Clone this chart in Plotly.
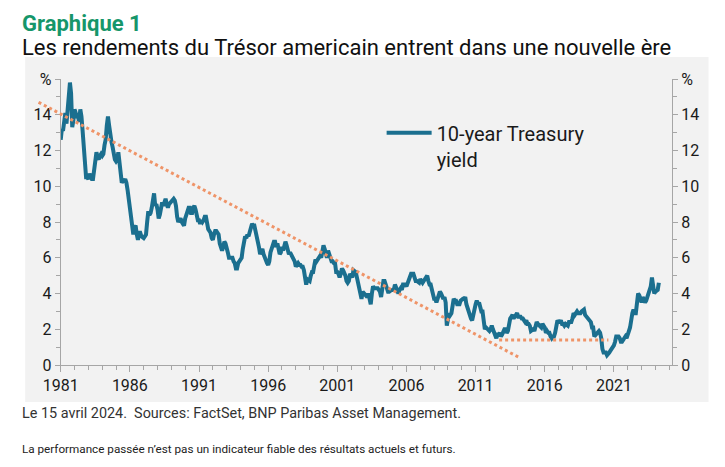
import plotly.graph_objects as go

# 10-year Treasury yield, %, monthly (Jan 1981 - Apr 2024)
yield_1980s = [
    12.6, 13.2, 13.1, 13.7, 14.1, 13.5, 14.3, 14.9, 15.8, 15.2, 13.3, 13.7,
    14.3, 14.1, 13.9, 13.9, 13.6, 14.3, 13.9, 13.1, 12.3, 10.9, 10.5, 10.5,
    10.4, 10.7, 10.5, 10.4, 10.4, 10.9, 11.4, 11.9, 11.6, 11.5, 11.7, 11.8,
    11.7, 11.8, 12.3, 12.6, 13.4, 13.9, 13.4, 12.7, 12.5, 12.2, 11.6, 11.5,
    11.4, 11.5, 11.9, 11.4, 10.8, 10.2, 10.3, 10.3, 10.4, 10.2, 9.8, 9.3,
    9.2, 8.7, 7.8, 7.3, 7.7, 7.8, 7.3, 7.0, 7.4, 7.4, 7.2, 7.1,
    7.1, 7.2, 7.3, 8.0, 8.6, 8.4, 8.5, 8.8, 9.4, 9.6, 8.9, 9.0,
    8.7, 8.2, 8.4, 8.7, 9.1, 8.9, 9.1, 9.3, 9.0, 8.8, 9.0, 9.1,
    9.1, 9.2, 9.3, 9.2, 8.9, 8.3, 8.0, 8.1, 8.2, 8.0, 7.9, 7.8,
]
yield_1990s = [
    8.2, 8.5, 8.6, 8.8, 8.8, 8.5, 8.5, 8.8, 8.9, 8.7, 8.4, 8.1,
    8.1, 7.9, 8.1, 8.0, 8.1, 8.3, 8.3, 7.9, 7.6, 7.5, 7.4, 7.1,
    7.0, 7.3, 7.5, 7.5, 7.4, 7.3, 6.8, 6.6, 6.4, 6.6, 6.9, 6.8,
    6.6, 6.3, 6.0, 6.0, 6.0, 6.0, 5.8, 5.7, 5.4, 5.4, 5.7, 5.8,
    5.8, 6.0, 6.5, 7.0, 7.2, 7.1, 7.3, 7.2, 7.5, 7.7, 7.9, 7.8,
    7.8, 7.5, 7.2, 7.1, 6.6, 6.2, 6.3, 6.5, 6.2, 6.0, 5.9, 5.7,
    5.6, 5.8, 6.3, 6.5, 6.7, 6.9, 6.9, 6.6, 6.8, 6.5, 6.2, 6.3,
    6.6, 6.4, 6.7, 6.9, 6.7, 6.5, 6.2, 6.3, 6.2, 6.0, 5.9, 5.8,
    5.5, 5.6, 5.7, 5.6, 5.6, 5.5, 5.5, 5.3, 4.8, 4.5, 4.8, 4.7,
    4.7, 5.0, 5.2, 5.2, 5.5, 5.9, 5.8, 5.9, 5.9, 6.1, 6.0, 6.3,
]
yield_2000s = [
    6.7, 6.5, 6.3, 6.0, 6.4, 6.1, 6.0, 5.8, 5.8, 5.7, 5.7, 5.2,
    5.2, 5.1, 4.9, 5.1, 5.4, 5.3, 5.2, 5.0, 4.7, 4.6, 4.7, 5.1,
    5.0, 4.9, 5.3, 5.2, 5.2, 4.9, 4.6, 4.3, 3.9, 3.7, 4.1, 4.0,
    4.0, 3.9, 3.8, 4.0, 3.6, 3.4, 4.0, 4.4, 4.3, 4.3, 4.3, 4.3,
    4.2, 4.1, 3.8, 4.4, 4.7, 4.7, 4.5, 4.3, 4.1, 4.1, 4.2, 4.2,
    4.2, 4.2, 4.5, 4.3, 4.1, 4.0, 4.2, 4.3, 4.2, 4.5, 4.5, 4.5,
    4.4, 4.6, 4.7, 5.0, 5.1, 5.1, 5.1, 4.9, 4.7, 4.7, 4.6, 4.6,
    4.8, 4.7, 4.6, 4.7, 4.8, 5.0, 5.0, 4.7, 4.5, 4.5, 4.2, 4.1,
    3.7, 3.7, 3.5, 3.7, 3.9, 4.1, 4.0, 3.9, 3.7, 3.8, 3.5, 2.2,
    2.5, 2.9, 2.8, 2.9, 3.3, 3.7, 3.6, 3.6, 3.4, 3.4, 3.4, 3.6,
]
yield_2010s = [
    3.7, 3.7, 3.7, 3.8, 3.4, 3.2, 3.0, 2.7, 2.6, 2.5, 2.8, 3.3,
    3.4, 3.6, 3.4, 3.5, 3.2, 3.0, 3.0, 2.3, 2.0, 2.1, 2.0, 2.0,
    1.9, 2.0, 2.2, 2.0, 1.8, 1.6, 1.5, 1.7, 1.7, 1.8, 1.6, 1.7,
    1.9, 2.0, 2.0, 1.8, 1.9, 2.3, 2.6, 2.7, 2.8, 2.6, 2.7, 2.9,
    2.9, 2.7, 2.7, 2.7, 2.6, 2.6, 2.5, 2.4, 2.5, 2.3, 2.3, 2.2,
    1.9, 2.0, 2.0, 1.9, 2.2, 2.4, 2.3, 2.2, 2.2, 2.1, 2.3, 2.2,
    2.1, 1.8, 1.9, 1.8, 1.8, 1.6, 1.5, 1.6, 1.6, 1.8, 2.1, 2.5,
    2.4, 2.4, 2.5, 2.3, 2.3, 2.2, 2.3, 2.2, 2.2, 2.4, 2.4, 2.4,
    2.6, 2.9, 2.8, 2.9, 3.0, 2.9, 2.9, 2.9, 3.0, 3.1, 3.1, 2.8,
    2.7, 2.7, 2.6, 2.5, 2.4, 2.1, 2.1, 1.6, 1.7, 1.7, 1.8, 1.9,
]
yield_2020s = [
    1.8, 1.5, 0.9, 0.7, 0.7, 0.7, 0.55, 0.6, 0.7, 0.8, 0.9, 0.9,
    1.1, 1.3, 1.6, 1.6, 1.6, 1.5, 1.3, 1.3, 1.4, 1.6, 1.6, 1.5,
    1.8, 1.9, 2.1, 2.8, 2.9, 3.1, 2.9, 2.9, 3.5, 4.0, 3.9, 3.6,
    3.5, 3.8, 3.7, 3.5, 3.6, 3.8, 3.9, 4.2, 4.4, 4.9, 4.5, 4.0,
    4.1, 4.2, 4.2, 4.6,
]
yields = yield_1980s + yield_1990s + yield_2000s + yield_2010s + yield_2020s
months = [1981 + i / 12 for i in range(len(yields))]

# dotted guides drawn on the chart
trend_x = [1979.4, 2014.2]
trend_y = [14.7, 0.4]
floor_x = [2012.7, 2020.6]
floor_y = [1.4, 1.4]

year_labels = [1981, 1986, 1991, 1996, 2001, 2006, 2011, 2016, 2021]
y_ticks = [0, 2, 4, 6, 8, 10, 12, 14, 16]
y_text = ['0', '2', '4', '6', '8', '10', '12', '14', '%']

x_min, x_max = 1981, 2025.2
blue = '#1b6f8f'
orange = '#ef9468'
axis_grey = '#a6a6a6'
font = 'Roboto, Liberation Sans, sans-serif'

# page body adds 8px, so figure pixels are screen pixels minus 8
left_px, right_px, axis_px = 22, 664, 45
d0 = (axis_px - left_px) / (right_px - left_px)
x2_min = x_min - (x_max - x_min) * d0 / (1 - d0)

fig = go.Figure()
fig.add_trace(go.Scatter(x=months, y=yields, mode='lines', name='10-year Treasury<br>yield',
                         line=dict(color=blue, width=4)))
fig.add_trace(go.Scatter(x=floor_x, y=floor_y, mode='lines', showlegend=False, yaxis='y2',
                         line=dict(color=orange, width=3, dash='3px,3px')))
# the trend line sticks out left of the y axis, so it lives in a wider subplot
fig.add_trace(go.Scatter(x=trend_x, y=trend_y, mode='lines', showlegend=False, xaxis='x2', yaxis='y3',
                         line=dict(color=orange, width=3, dash='3px,3px')))

tick_common = dict(ticks='outside', tickcolor=axis_grey, showline=True, linecolor=axis_grey,
                   linewidth=1, showgrid=False, zeroline=False, tickfont=dict(size=16, color='#1a1a1a'))

fig.update_layout(
    width=725, height=467,
    margin=dict(l=left_px, r=725 - right_px, t=71, b=110),
    paper_bgcolor='white', plot_bgcolor='rgba(0,0,0,0)',
    font=dict(family=font, color='#1a1a1a'),
    xaxis=dict(domain=[d0, 1], range=[x_min, x_max], tickvals=year_labels, ticklen=6,
               minor=dict(tickvals=list(range(1981, 2026)), ticks='outside', ticklen=4, tickcolor=axis_grey),
               anchor='y', **tick_common),
    yaxis=dict(range=[0, 16], tickvals=y_ticks, ticktext=y_text, ticklen=5,
               minor=dict(dtick=1, ticks='outside', ticklen=4, tickcolor=axis_grey),
               anchor='x', **tick_common),
    yaxis2=dict(range=[0, 16], tickvals=y_ticks, ticktext=y_text, ticklen=5, overlaying='y', side='right',
                minor=dict(dtick=1, ticks='outside', ticklen=4, tickcolor=axis_grey),
                anchor='x', **tick_common),
    xaxis2=dict(domain=[0, 1], range=[x2_min, x_max], visible=False, anchor='y3'),
    yaxis3=dict(domain=[0, 1], range=[0, 16], visible=False, anchor='x2'),
    legend=dict(x=0.542, y=0.88, xanchor='left', yanchor='top', valign='top', itemwidth=45,
                bgcolor='rgba(0,0,0,0)', font=dict(size=20, color='#1a1a1a')),
    shapes=[dict(type='rect', xref='paper', yref='paper', x0=-0.0202, x1=1.0576, y0=-0.129, y1=1.077,
                 fillcolor='#f2f2f2', line=dict(width=0), layer='below')],
)

notes = [
    dict(text='<b>Graphique 1</b>', y=1.195, size=22, color='#16966a'),
    dict(text='Les rendements du Trésor americain entrent dans une nouvelle ère', y=1.11, size=22, color='#111111'),
    dict(text='Le 15 avril 2024.  Sources: FactSet, BNP Paribas Asset Management.', y=-0.171, size=14.4, color='#333333'),
    dict(text='La performance passée n’est pas un indicateur fiable des résultats actuels et futurs.', y=-0.294, size=11.7, color='#222222'),
]
for n in notes:
    fig.add_annotation(text=n['text'], xref='paper', yref='paper', x=-0.028, y=n['y'],
                       xanchor='left', yanchor='middle', showarrow=False,
                       font=dict(family=font, size=n['size'], color=n['color']))

fig.write_html('out.html')
